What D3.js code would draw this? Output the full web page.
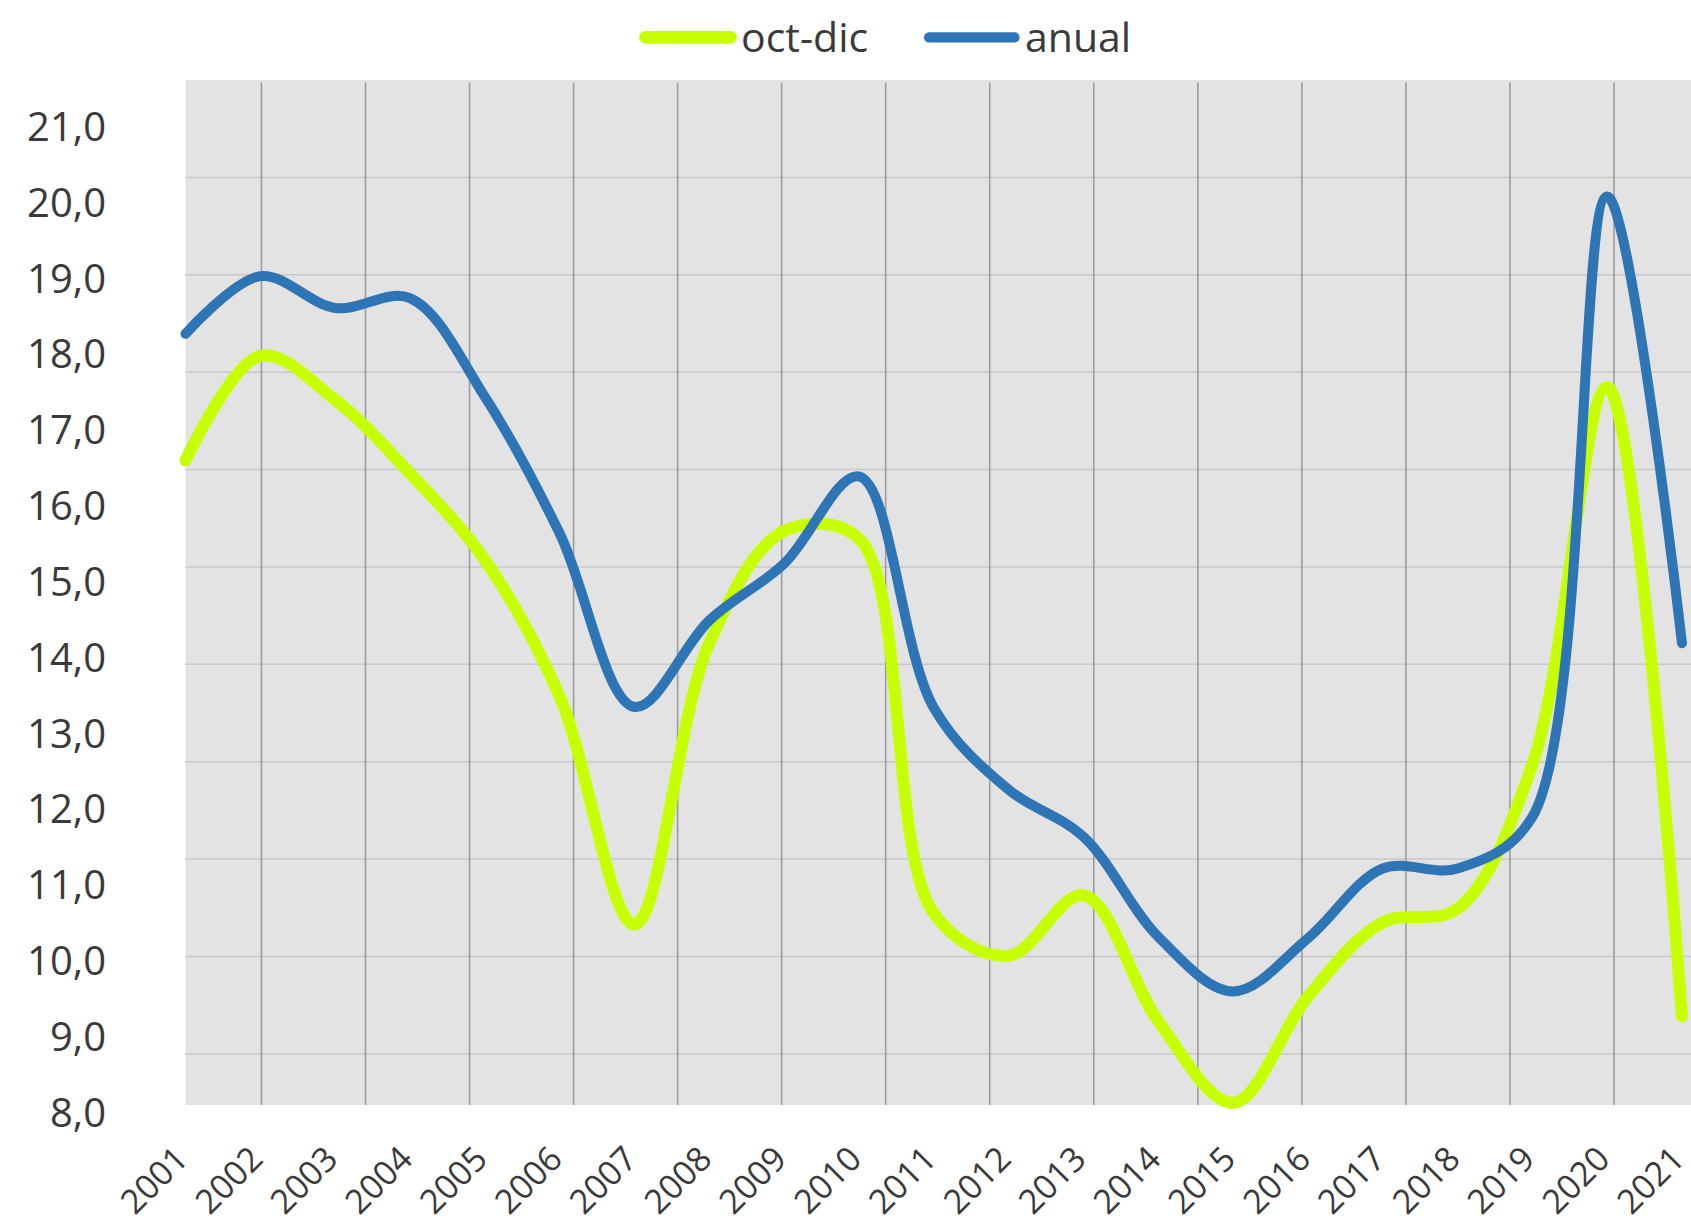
<!DOCTYPE html>
<html>
<head>
<meta charset="utf-8">
<script src="https://cdn.jsdelivr.net/npm/d3@7"></script>
<style>
  body { margin: 0; background: #fff; }
  svg { display: block; font-family: "Open Sans", "Noto Sans", sans-serif; }
</style>
</head>
<body>
<svg id="chart" width="1691" height="1224"></svg>
<script>
const years = [2001, 2002, 2003, 2004, 2005, 2006, 2007, 2008, 2009, 2010, 2011,
  2012, 2013, 2014, 2015, 2016, 2017, 2018, 2019, 2020, 2021];
const octDic = [16.61, 17.99, 17.41, 16.44, 15.30, 13.50, 10.49, 14.20, 15.68, 15.58, 10.64,
  10.08, 10.88, 9.22, 8.14, 9.54, 10.52, 10.70, 12.60, 17.58, 9.28];
const anual = [18.28, 19.04, 18.62, 18.75, 17.45, 15.65, 13.36, 14.50, 15.25, 16.40, 13.35,
  12.27, 11.65, 10.33, 9.61, 10.31, 11.23, 11.23, 11.91, 20.09, 14.20];
const yTicks = [8, 9, 10, 11, 12, 13, 14, 15, 16, 17, 18, 19, 20, 21];
const seriesNames = ["oct-dic", "anual"];

const green = "#c6ff00";
const blue = "#2e75b6";

const svg = d3.select("#chart");

const plot = { left: 185.5, right: 1691, top: 80, bottom: 1105 };

const x = d3.scaleLinear().domain([2001, 2021]).range([185.5, 1682]);
const y = d3.scaleLinear().domain([8, 21]).range([1113.5, 127.5]);

// the grid of the plot area does not follow the value axes
const gx = d3.scaleLinear().domain([-0.725, 13.745]).range([plot.left, plot.right]);
const gy = d3.scaleLinear().domain([0, 10.53]).range([79.5, plot.bottom]);

svg.append("rect")
  .attr("x", plot.left)
  .attr("y", plot.top)
  .attr("width", plot.right - plot.left)
  .attr("height", plot.bottom - plot.top)
  .attr("fill", "#e3e3e3");

const hGrid = svg.append("g")
  .attr("transform", `translate(${plot.left}, 0)`)
  .call(d3.axisLeft(gy).tickValues(d3.range(1, 11)).tickSize(-(plot.right - plot.left)).tickFormat(""));
hGrid.select(".domain").remove();
hGrid.selectAll("line").attr("stroke", "#c8c8c8").attr("stroke-width", 1.5);

const vGrid = svg.append("g")
  .attr("transform", `translate(0, ${plot.bottom})`)
  .call(d3.axisBottom(gx).tickValues(d3.range(14)).tickSize(-(plot.bottom - 82.5)).tickFormat(""));
vGrid.select(".domain").remove();
vGrid.selectAll("line").attr("stroke", "#9c9c9c").attr("stroke-width", 1.6);

// y labels
const fmt = d3.formatLocale({ decimal: ",", thousands: ".", grouping: [3], currency: ["", ""] }).format(".1f");
const yAxis = svg.append("g")
  .attr("transform", "translate(106, 0)")
  .call(d3.axisLeft(y).tickValues(yTicks).tickSize(0).tickPadding(0).tickFormat(fmt));
yAxis.select(".domain").remove();
yAxis.selectAll("text")
  .attr("font-size", 40)
  .attr("font-family", "Open Sans")
  .attr("fill", "#3a3a3a");

// x labels
const xAxis = svg.append("g")
  .attr("transform", "translate(0, 1161)")
  .call(d3.axisBottom(x).tickValues(years).tickSize(0).tickFormat(d3.format("d")));
xAxis.select(".domain").remove();
xAxis.selectAll("text")
  .attr("y", null)
  .attr("dy", null)
  .attr("transform", "translate(4, 0) rotate(-45)")
  .attr("text-anchor", "end")
  .attr("font-size", 34)
  .attr("font-family", "Open Sans")
  .attr("fill", "#3a3a3a");

const line = d3.line()
  .x((d, i) => x(years[i]))
  .y(d => y(d))
  .curve(d3.curveCatmullRom.alpha(0.5));

svg.append("path")
  .attr("d", line(octDic))
  .attr("fill", "none")
  .attr("stroke", green)
  .attr("stroke-width", 12)
  .attr("stroke-linecap", "round")
  .attr("stroke-linejoin", "round");

svg.append("path")
  .attr("d", line(anual))
  .attr("fill", "none")
  .attr("stroke", blue)
  .attr("stroke-width", 10)
  .attr("stroke-linecap", "round")
  .attr("stroke-linejoin", "round");

// legend
const legendItems = [
  { name: seriesNames[0], color: green, width: 12.7, x0: 645.5, x1: 730.5, tx: 741 },
  { name: seriesNames[1], color: blue, width: 10.3, x0: 929, x1: 1014.5, tx: 1025 }
];
const legend = svg.append("g");
legendItems.forEach(d => {
  legend.append("line")
    .attr("x1", d.x0).attr("x2", d.x1)
    .attr("y1", 37.3).attr("y2", 37.3)
    .attr("stroke", d.color)
    .attr("stroke-width", d.width)
    .attr("stroke-linecap", "round");
  legend.append("text")
    .attr("x", d.tx)
    .attr("y", 52)
    .attr("font-size", 41)
    .attr("fill", "#3a3a3a")
    .text(d.name);
});
</script>
</body>
</html>
